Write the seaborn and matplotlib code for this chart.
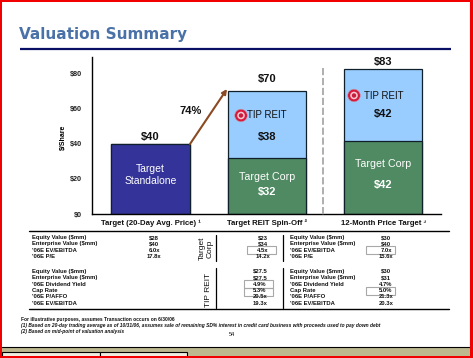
import matplotlib
matplotlib.use("Agg")
import matplotlib.pyplot as plt
from matplotlib.patches import Rectangle, Circle
import pandas as pd
import seaborn as sns

categories = ["Target (20-Day Avg. Price) ¹", "Target REIT Spin-Off ²", "12-Month Price Target ³"]
corp_values = [40, 32, 41.5]
reit_values = [0, 38, 41.5]
total_labels = ["$40", "$70", "$83"]
y_ticks = [0, 20, 40, 60, 80]
y_tick_labels = ["$0", "$20", "$40", "$60", "$80"]

corp_rows = ["Equity Value ($mm)", "Enterprise Value ($mm)", "'06E EV/EBITDA", "'06E P/E"]
corp_a = ["$28", "$40", "6.0x", "17.8x"]
corp_b = ["$23", "$34", "4.5x", "14.2x"]
corp_c = ["$30", "$40", "7.0x", "15.6x"]
reit_rows_a = ["Equity Value ($mm)", "Enterprise Value ($mm)", "'06E Dividend Yield", "Cap Rate", "'06E P/AFFO", "'06E EV/EBITDA"]
reit_a = ["$27.5", "$27.5", "4.9%", "5.3%", "20.5x", "19.3x"]
reit_c = ["$30", "$31", "4.7%", "5.0%", "21.3x", "20.3x"]

sns.set_theme(style="white")
plt.rcParams["font.family"] = ["Liberation Sans", "DejaVu Sans"]
W, H = 473, 358
fig = plt.figure(figsize=(W / 100, H / 100), dpi=100, facecolor="white")

# pixel overlay for slide furniture, below the chart
bg = fig.add_axes([0, 0, 1, 1], zorder=0)
bg.set_xlim(0, W); bg.set_ylim(H, 0); bg.axis("off")
bg.add_patch(Rectangle((0, 347), W, 11, fc="#BDB88E", ec="none"))
bg.plot([2, 470], [347.3, 347.3], color="black", lw=0.8)
bg.plot([470, 470], [2, 347], color="#333333", lw=0.8)
for x0, x1 in [(2, 100), (100, 187)]:
    bg.add_patch(Rectangle((x0, 352), x1 - x0, 6, fc="#EFEDE0", ec="black", lw=0.8))
bg.text(19, 34.5, "Valuation Summary", color="#4A72A8", fontsize=11, fontweight="bold",
        va="center", ha="left", family="DejaVu Sans")
bg.plot([20, 451], [48.8, 48.8], color="#0A0F66", lw=1.6, solid_capstyle="butt")

# chart
ax = fig.add_axes([92 / W, 1 - 214 / H, (441 - 92) / W, (214 - 57) / H], zorder=1)
ax.patch.set_alpha(0)
totals = [a + b for a, b in zip(corp_values, reit_values)]
df = pd.DataFrame({"cat": categories, "corp": corp_values, "total": totals})
sns.barplot(data=df, x="cat", y="total", color="#99CCFF", saturation=1, width=0.67,
            edgecolor="#10202A", linewidth=0.9, ax=ax)
sns.barplot(data=df, x="cat", y="corp", color="#4F8A62", saturation=1, width=0.67,
            edgecolor="#10202A", linewidth=0.9, ax=ax)
ax.patches[3].set_facecolor("#333399")
ax.set_xlim(-0.502, 2.494)
ax.set_ylim(0, 89.7)
ax.set_xlabel("")
ax.set_ylabel("$/Share", fontsize=5, fontweight="bold", color="black")
ax.yaxis.set_label_coords(-0.072, 0.49)
ax.set_yticks(y_ticks, y_tick_labels, fontsize=5.2, fontweight="bold", color="#222222")
ax.set_xticks(range(3), categories, fontsize=5.6, fontweight="bold", color="#111111")
ax.tick_params(axis="y", length=0, pad=7)
ax.tick_params(axis="x", length=0, pad=4)
for s in ("top", "right"):
    ax.spines[s].set_visible(False)
for s in ("left", "bottom"):
    ax.spines[s].set_color("black"); ax.spines[s].set_linewidth(1.0)

# label placement in data units
total_gap = [4, 6.9, 4]
corp_name_y = [None, 21.4, 28.6]
corp_val_y = [None, 12.6, 16.6]
reit_name_y = [None, 56.6, 67.7]
reit_val_y = [None, 44, 57]
for i, lab in enumerate(total_labels):
    ax.text(i, totals[i] + total_gap[i], lab, ha="center", va="center", fontsize=8, fontweight="bold", color="#111111")
    if i == 0:
        ax.text(i, 22, "Target\nStandalone", ha="center", va="center",
                color="white", fontsize=7.5, linespacing=1.25)
    else:
        ax.text(i, corp_name_y[i], "Target Corp", ha="center", va="center", color="white", fontsize=7.7)
        ax.text(i, corp_val_y[i], f"${corp_values[i]:.0f}", ha="center",
                va="center", color="white", fontsize=8, fontweight="bold")
        ax.text(i, reit_name_y[i], "TIP REIT", ha="center", va="center", color="#111111", fontsize=7)
        ax.text(i, reit_val_y[i], f"${reit_values[i]:.0f}",
                ha="center", va="center", color="#111111", fontsize=8, fontweight="bold")

# overlay in pixels
ov = fig.add_axes([0, 0, 1, 1], zorder=2)
ov.set_xlim(0, W); ov.set_ylim(H, 0); ov.axis("off")
ov.set_aspect("equal")
ov.annotate("", xy=(227, 89), xytext=(190, 144),
            arrowprops=dict(arrowstyle="-|>", color="#8B4A22", lw=1.5, mutation_scale=7, shrinkA=0, shrinkB=0))
ov.text(191, 110.5, "74%", ha="center", va="center", fontsize=8, fontweight="bold", color="#111111")
ov.plot([323, 323], [68, 217], color="#A8A8A8", lw=1.3, ls=(0, (4, 1.5)))
for cx, cy in [(241, 115.5), (354, 95.5)]:
    ov.add_patch(Circle((cx, cy), 6.3, fc="#D91A3C", ec="#C0A0B0", lw=0.4))
    ov.add_patch(Circle((cx, cy), 3.8, fc="#F4C8D0", ec="none"))
    ov.add_patch(Circle((cx, cy), 2.2, fc="#C81E3C", ec="none"))

# tables
for x0, x1, y in [(29, 449, 231), (29, 449, 308.5)]:
    ov.plot([x0, x1], [y, y], color="black", lw=1.0)
for x, y0, y1 in [(216, 235, 261), (216, 268, 308), (283, 235, 261), (283, 268, 308)]:
    ov.plot([x, x], [y0, y1], color="black", lw=0.9)
fs = 4.2
corp_y = [237.7, 244, 250.7, 257]
reit_y = [271, 277.7, 284, 290.7, 297, 303.7]
def tx(x, y, s, ha="left"):
    ov.text(x, y, s, fontsize=fs, fontweight="bold", ha=ha, va="center", color="#111111")
for r, a, b, c, y in zip(corp_rows, corp_a, corp_b, corp_c, corp_y):
    tx(32, y, r); tx(154, y, a, "center"); tx(263, y, b, "center")
    tx(290, y, r); tx(386, y, c, "center")
for r, a, c, y in zip(reit_rows_a, reit_a, reit_c, reit_y):
    tx(32, y, r); tx(260, y, a, "center")
    tx(290, y, r); tx(386, y, c, "center")
for x, y, w, h in [(247, 246, 29, 8), (244, 280, 29, 7.5), (244, 288, 29, 7.5),
                   (366, 246, 29, 8), (366, 287, 29, 8)]:
    ov.add_patch(Rectangle((x, y), w, h, fc="none", ec="#A8A8A8", lw=0.8))
ov.text(206, 248.5, "Target\nCorp", rotation=90, fontsize=6, ha="center", va="center", color="#111111", linespacing=1.05)
ov.text(208, 290, "TIP REIT", rotation=90, fontsize=6, ha="center", va="center", color="#111111")

notes = [(21, 319, "For illustrative purposes, assumes Transaction occurs on 6/30/06", "normal"),
         (21, 326, "(1) Based on 20-day trading average as of 10/31/06, assumes sale of remaining SD% interest in credit card business with proceeds used to pay down debt", "italic"),
         (21, 332, "(2) Based on mid-point of valuation analysis", "italic")]
for x, y, s, st in notes:
    ov.text(x, y, s, fontsize=3.55, fontstyle=st, fontweight="bold", ha="left", va="center", color="#111111")
ov.text(232, 335, "54", fontsize=4, ha="center", va="center", color="#111111")

# red frame
for x, y, w, h in [(0, 0, W, 2), (0, 0, 2, H), (W - 3, 0, 3, H), (0, H - 2, W, 2)]:
    ov.add_patch(Rectangle((x, y), w, h, fc="#F00000", ec="none", clip_on=False))

fig.savefig("out.png", dpi=100)
